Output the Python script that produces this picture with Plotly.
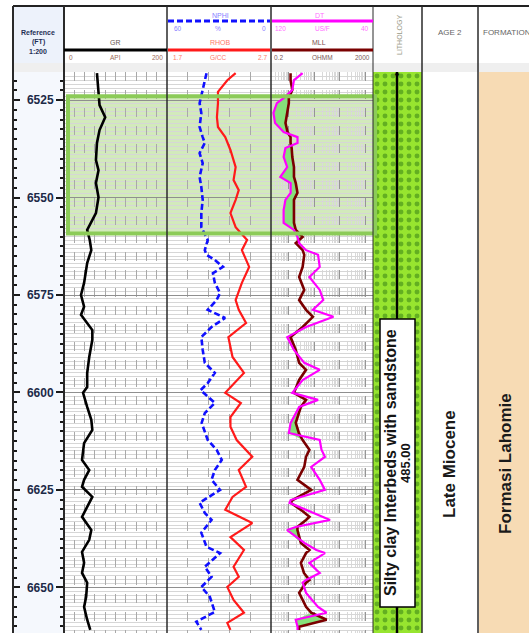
import numpy as np
import plotly.graph_objects as go

W, H = 529, 633

# ---------------- data ----------------
gr_depth = [6518.1, 6523.2, 6526.3, 6529.4, 6532.7, 6536.0, 6540.4, 6543.0, 6546.3, 6549.9,
            6554.0, 6558.3, 6560.9, 6563.5, 6566.8, 6571.9, 6575.0, 6578.0, 6580.1, 6584.0,
            6586.5, 6590.9, 6595.0, 6598.6, 6600.1, 6603.7, 6607.0, 6609.6, 6613.0, 6617.3,
            6619.9, 6622.4, 6624.2, 6626.8, 6629.4, 6631.9, 6635.3, 6637.8, 6640.9, 6643.7,
            6646.3, 6648.8, 6652.4, 6655.0, 6658.3, 6660.9]
gr_api = [64, 67, 69, 80, 69, 64, 62, 67, 62, 67,
          62, 45, 50, 53, 45, 39, 33, 39, 33, 55,
          55, 49, 45, 45, 37, 45, 53, 55, 39, 35,
          49, 39, 35, 55, 45, 35, 53, 49, 35, 39,
          35, 45, 43, 39, 45, 51]

nphi_depth = [6518.1, 6519.9, 6522.4, 6525.8, 6528.3, 6531.9, 6534.5, 6536.0, 6538.6, 6541.2,
              6544.7, 6547.3, 6550.6, 6554.0, 6557.6, 6560.9, 6563.5, 6564.7, 6566.0, 6567.8,
              6569.4, 6571.9, 6574.5, 6576.3, 6578.8, 6580.9, 6583.2, 6585.8, 6589.1, 6592.4,
              6595.0, 6597.6, 6599.4, 6602.7, 6605.3, 6607.8, 6612.2, 6614.7, 6617.3, 6619.9,
              6622.4, 6625.0, 6628.3, 6630.9, 6632.7, 6636.0, 6639.6, 6641.2, 6644.7, 6647.3,
              6649.9, 6652.4, 6656.3, 6658.8, 6660.9]
nphi = [37.2, 38.2, 39.4, 41.2, 40.2, 41.2, 39.4, 38.2, 41.2, 39.4,
        41.2, 40.2, 39.4, 40.2, 40.2, 36.5, 38.2, 37.2, 32.4, 27.7,
        33.5, 32.4, 29.4, 31.4, 36.5, 26.5, 34.3, 40.2, 39.4, 38.2,
        32.4, 36.5, 40.6, 32.4, 38.2, 40.0, 36.5, 31.4, 28.4, 32.4,
        34.3, 29.4, 41.2, 38.2, 34.3, 40.2, 37.2, 29.4, 38.2, 34.3,
        40.2, 35.3, 32.4, 43.1, 40.2]

rhob_depth = [6518.1, 6519.9, 6522.9, 6525.8, 6529.4, 6531.9, 6534.5, 6537.8, 6542.2, 6545.5,
              6548.1, 6550.6, 6554.0, 6557.6, 6560.9, 6563.5, 6567.8, 6571.9, 6576.3, 6578.8,
              6582.2, 6585.8, 6590.9, 6595.0, 6600.1, 6602.7, 6606.3, 6608.8, 6612.2, 6616.5,
              6619.9, 6624.2, 6626.8, 6630.1, 6633.5, 6637.1, 6640.4, 6644.7, 6647.3, 6649.9,
              6653.2, 6656.5, 6659.1, 6660.9]
rhob = [2.36, 2.28, 2.19, 2.19, 2.18, 2.19, 2.26, 2.31, 2.36, 2.34,
        2.39, 2.36, 2.31, 2.36, 2.47, 2.42, 2.49, 2.42, 2.36, 2.39,
        2.46, 2.29, 2.33, 2.44, 2.26, 2.41, 2.31, 2.31, 2.37, 2.52,
        2.39, 2.46, 2.33, 2.26, 2.52, 2.31, 2.44, 2.34, 2.39, 2.28,
        2.34, 2.44, 2.28, 2.31]

dtmll_depth = [6518.1, 6519.9, 6522.4, 6524.5, 6525.8, 6528.3, 6530.9, 6533.2, 6534.5, 6536.0,
               6537.3, 6539.6, 6542.2, 6544.7, 6546.3, 6548.8, 6550.6, 6553.2, 6556.5, 6558.3,
               6560.1, 6561.7, 6563.5, 6564.7, 6567.8, 6570.4, 6573.7, 6576.3, 6578.8, 6580.6,
               6583.2, 6585.8, 6589.1, 6592.4, 6594.2, 6596.8, 6600.1, 6601.9, 6603.7, 6607.8,
               6610.4, 6612.2, 6614.7, 6616.5, 6619.1, 6622.4, 6625.0, 6627.6, 6628.3, 6630.1,
               6631.9, 6632.7, 6634.5, 6635.3, 6638.6, 6640.4, 6641.2, 6643.7, 6645.5, 6646.3,
               6648.1, 6648.8, 6651.4, 6655.0, 6656.5, 6658.3, 6660.1, 6660.9]
dt = [95.2, 102.0, 103.3, 110.1, 115.4, 118.1, 116.8, 110.1, 99.2, 99.2,
      108.7, 110.1, 107.3, 112.7, 104.6, 104.6, 108.7, 110.1, 110.1, 102.0,
      99.2, 97.9, 92.5, 83.1, 81.8, 89.9, 81.8, 79.0, 87.1, 71.0,
      92.5, 107.3, 102.0, 93.9, 81.8, 95.2, 103.3, 83.1, 97.9, 104.6,
      106.0, 81.8, 80.4, 77.7, 88.5, 81.8, 77.7, 104.6, 105.5, 92.5,
      80.4, 73.7, 100.6, 107.3, 93.9, 84.4, 77.7, 89.9, 84.4, 81.8,
      92.5, 95.2, 92.5, 83.1, 76.4, 100.6, 99.2, 99.2]
mll = [1.17, 1.17, 1.37, 1.0, 1.0, 0.86, 0.74, 0.89, 1.17, 1.17,
       1.29, 1.37, 1.59, 1.59, 1.87, 2.18, 1.59, 1.59, 1.59, 1.87,
       3.48, 1.87, 3.48, 4.03, 3.48, 2.54, 4.03, 2.54, 4.73, 8.8,
       3.48, 1.17, 1.87, 2.54, 4.73, 2.54, 1.59, 4.73, 2.97, 1.87,
       2.47, 3.48, 6.43, 4.73, 4.03, 2.18, 7.53, 1.41, 1.17, 2.97,
       6.43, 4.73, 2.18, 2.18, 2.97, 6.43, 4.73, 2.97, 3.48, 3.92,
       6.43, 4.73, 2.54, 4.73, 7.53, 30.4, 2.54, 2.54]

# scales
gr_range = [0, 200]
nphi_range = [60, 0]
rhob_range = [1.7, 2.7]
dt_range = [120, 40]
mll_range = [0.2, 2000]
depth_top, depth_bottom = 6517.8, 6661.7

# zones / intervals
zone_top, zone_bottom = 6524.0, 6559.2
litho_top = 6400.0
litho_thickness = 485.0
litho_name = "Silty clay Interbeds with sandstone"
age_name = "Late Miocene"
formation_name = "Formasi Lahomie"

# ---------------- helpers ----------------
def px(x):
    return x / W

def py(y):
    return 1 - y / H

plot_top = 72
ydom = [0, py(plot_top)]

fig = go.Figure()

common = dict(hoverinfo="skip", showlegend=False)

# GR
fig.add_trace(go.Scatter(x=gr_api, y=gr_depth, xaxis="x", yaxis="y", mode="lines",
                         line=dict(color="black", width=2.6), **common))
# NPHI
fig.add_trace(go.Scatter(x=nphi, y=nphi_depth, xaxis="x2", yaxis="y", mode="lines",
                         line=dict(color="#1010ff", width=2.6, dash="6px,3px"), **common))
# RHOB
fig.add_trace(go.Scatter(x=rhob, y=rhob_depth, xaxis="x3", yaxis="y", mode="lines",
                         line=dict(color="#ff1a1a", width=2.2), **common))

# DT/MLL crossover fill on MLL (log) axis: DT expressed in MLL-axis units
lo, hi = np.log10(mll_range[0]), np.log10(mll_range[1])
dt_arr = np.array(dt)
dt_pos = (dt_range[0] - dt_arr) / (dt_range[0] - dt_range[1])
dt_as_mll = 10 ** (lo + dt_pos * (hi - lo))
mll_arr = np.array(mll)
fig.add_trace(go.Scatter(x=mll_arr, y=dtmll_depth, xaxis="x4", yaxis="y", mode="lines",
                         line=dict(width=0, color="rgba(0,0,0,0)"), **common))
fig.add_trace(go.Scatter(x=np.minimum(dt_as_mll, mll_arr), y=dtmll_depth, xaxis="x4", yaxis="y",
                         mode="lines", line=dict(width=0, color="rgba(0,0,0,0)"),
                         fill="tonextx", fillcolor="#86e07a", **common))
# MLL
fig.add_trace(go.Scatter(x=mll, y=dtmll_depth, xaxis="x4", yaxis="y", mode="lines",
                         line=dict(color="#7a0000", width=2.6), **common))
# DT
fig.add_trace(go.Scatter(x=dt, y=dtmll_depth, xaxis="x5", yaxis="y", mode="lines",
                         line=dict(color="#ff00ff", width=2.2), **common))

# lithology interval
fig.add_trace(go.Bar(x=[0], y=[litho_thickness], base=[litho_top], width=[1],
                     xaxis="x6", yaxis="y",
                     marker=dict(color="#97e52f", line=dict(width=0),
                                 pattern=dict(shape=".", fgcolor="#2f7a14", bgcolor="#97e52f",
                                              size=8, solidity=0.3)),
                     **common))

# dummy traces to realise depth tick axes
fig.add_trace(go.Scatter(x=[None], y=[None], xaxis="x", yaxis="y2", **common))
fig.add_trace(go.Scatter(x=[None], y=[None], xaxis="x", yaxis="y3", **common))

noax = dict(showticklabels=False, ticks="", zeroline=False, showline=False, fixedrange=True)

fig.update_layout(
    width=W, height=H, autosize=False,
    margin=dict(l=0, r=0, t=0, b=0, pad=0),
    paper_bgcolor="white", plot_bgcolor="rgba(0,0,0,0)",
    font=dict(family="Liberation Sans", color="#333"),
    bargap=0,
    yaxis=dict(domain=ydom, range=[depth_bottom, depth_top], anchor="x",
               showgrid=True, gridcolor="#8f8f8f", gridwidth=1.3, dtick=25, tick0=0,
               minor=dict(dtick=1, showgrid=True, gridcolor="#d6d6d6", gridwidth=1),
               **noax),
    yaxis2=dict(overlaying="y", anchor="free", position=px(64), side="left",
                range=[depth_bottom, depth_top], dtick=25, tick0=0,
                ticks="outside", ticklen=7, tickwidth=2, tickcolor="#1a1a1a",
                minor=dict(dtick=2.5, ticks="outside", ticklen=3, tickwidth=1.5,
                           tickcolor="#1a1a1a", showgrid=False),
                showgrid=False, zeroline=False, showline=True, linecolor="#1a1a1a", linewidth=2,
                tickfont=dict(size=12, color="#1c2a48", family="Liberation Sans", weight="bold"),
                fixedrange=True, automargin=False),
    yaxis3=dict(overlaying="y", anchor="free", position=px(13), side="right",
                range=[depth_bottom, depth_top], dtick=25, tick0=0,
                ticks="outside", ticklen=6, tickwidth=2, tickcolor="#1a1a1a",
                minor=dict(dtick=2.5, ticks="outside", ticklen=3, tickwidth=1.5,
                           tickcolor="#1a1a1a", showgrid=False),
                showgrid=False, zeroline=False, showline=True, linecolor="#1a1a1a", linewidth=2,
                showticklabels=False, fixedrange=True, automargin=False),
    xaxis=dict(domain=[px(64), px(167)], range=gr_range, anchor="y",
               showgrid=True, dtick=20, tick0=0, griddash="dash", gridcolor="#a9a9a9", gridwidth=1,
               **noax),
    xaxis2=dict(domain=[px(167), px(271)], range=nphi_range, anchor="y",
                showgrid=True, dtick=12, tick0=0, griddash="dash", gridcolor="#a9a9a9", gridwidth=1,
                **noax),
    xaxis3=dict(overlaying="x2", range=rhob_range, anchor="y", showgrid=False, **noax),
    xaxis4=dict(domain=[px(271), px(373)], type="log", range=[lo, hi], anchor="y",
                showgrid=True, dtick=1, griddash="dash", gridcolor="#959595", gridwidth=1,
                minor=dict(dtick="D1", showgrid=True, gridcolor="#d9d9d9", gridwidth=1),
                **noax),
    xaxis5=dict(overlaying="x4", range=dt_range, anchor="y", showgrid=False, **noax),
    xaxis6=dict(domain=[px(373), px(422)], range=[-0.5, 0.5], anchor="y", showgrid=False, **noax),
)

shapes = []

def rect(x0, y0, x1, y1, fill, layer="below", line=None):
    shapes.append(dict(type="rect", xref="paper", yref="paper",
                       x0=px(x0), x1=px(x1), y0=py(y1), y1=py(y0),
                       fillcolor=fill, line=line or dict(width=0), layer=layer))

def hline(x0, x1, y, color, width, dash=None, layer="above"):
    ln = dict(color=color, width=width)
    if dash:
        ln["dash"] = dash
    shapes.append(dict(type="line", xref="paper", yref="paper",
                       x0=px(x0), x1=px(x1), y0=py(y), y1=py(y), line=ln, layer=layer))

def vline(x, y0, y1, color, width, layer="above"):
    shapes.append(dict(type="line", xref="paper", yref="paper",
                       x0=px(x), x1=px(x), y0=py(y0), y1=py(y1),
                       line=dict(color=color, width=width), layer=layer))

# backgrounds
rect(13, 7, 64, 63, "#edf2fb")
rect(13, 63, 529, 72, "#efefef")
rect(13, 72, 64, 633, "#f5f8fd")
rect(479, 72, 529, 633, "#f7dbb4")

# green zone fill (data depths)
shapes.append(dict(type="rect", xref="paper", yref="y", x0=px(68), x1=px(375),
                   y0=zone_top, y1=zone_bottom, fillcolor="#d2eabb",
                   line=dict(width=0), layer="below"))
shapes.append(dict(type="rect", xref="paper", yref="y", x0=px(68), x1=px(375),
                   y0=zone_top, y1=zone_bottom, fillcolor="rgba(0,0,0,0)",
                   line=dict(color="#8ccb58", width=4), layer="above"))

# header top line & separators
hline(13, 529, 6, "#222", 2)
for xv, wv in [(13, 2), (64, 2), (167, 1.5), (271, 1.5), (373, 1), (422, 1.5), (478, 1.5)]:
    vline(xv, 6, 633, "#2a2a2a", wv)

# header curve keys
hline(64, 167, 50, "black", 3)
hline(168, 270, 21, "#1010ff", 3, dash="6px,3px")
hline(168, 270, 50, "#ff1a1a", 3)
hline(272, 373, 21, "#ff00ff", 3)
hline(272, 373, 50, "#7a0000", 3)

# lithology center line and label box
vline(397, 72, 633, "black", 2.5)
rect(380, 319, 415, 607, "white", layer="above", line=dict(color="black", width=1.5))

fig.update_layout(shapes=shapes)

ann = []

def text(x, y, s, size=7, color="#444", bold=False, angle=0, xanchor="center"):
    ann.append(dict(x=px(x), y=py(y), xref="paper", yref="paper", text=s, showarrow=False,
                    xanchor=xanchor, yanchor="middle", textangle=angle,
                    font=dict(size=size, color=color, family="Liberation Sans",
                              weight="bold" if bold else "normal")))

text(38, 33, "Reference", 7, "#1f2f55", True)
text(38, 42, "(FT)", 7, "#1f2f55", True)
text(38, 51, "1:200", 7, "#1f2f55", True)

text(115, 43, "GR", 7, "#6a5a52")
text(71, 58, "0", 6.5, "#9a6a5a"); text(115, 58, "API", 6.5, "#9a6a5a"); text(157, 58, "200", 6.5, "#9a6a5a")

text(220, 15, "NPHI", 7, "#8a80ff")
text(178, 29, "60", 6.5, "#8a80ff"); text(218, 29, "%", 6.5, "#8a80ff"); text(264, 29, "0", 6.5, "#8a80ff")
text(220, 43, "RHOB", 7, "#ff7a6a")
text(177, 58, "1.7", 6.5, "#ff7a6a"); text(218, 58, "G/CC", 6.5, "#ff7a6a"); text(262, 58, "2.7", 6.5, "#ff7a6a")

text(320, 15, "DT", 7, "#ff70ff")
text(280, 29, "120", 6.5, "#ff70ff"); text(322, 29, "US/F", 6.5, "#ff70ff"); text(365, 29, "40", 6.5, "#ff70ff")
text(319, 43, "MLL", 7, "#7a5050")
text(278, 58, "0.2", 6.5, "#7a5a5a"); text(322, 58, "OHMM", 6.5, "#7a5a5a"); text(362, 58, "2000", 6.5, "#7a5a5a")

text(400, 35, "LITHOLOGY", 7, "#9a9a88", angle=-90)
text(450, 33, "AGE 2", 8, "#666")
text(481, 33, "FORMATION", 8, "#666", xanchor="left")
text(397, 75, "▼", 8, "black")

text(390, 463, litho_name, 16, "#151515", True, angle=-90)
text(405, 463, f"{litho_thickness:.2f}", 13, "#151515", True, angle=-90)
text(449, 464, age_name, 17, "#1a1a1a", True, angle=-90)
text(505, 464, formation_name, 17, "#1a1a1a", True, angle=-90)

fig.update_layout(annotations=ann)

fig.write_html("out.html", config={"displayModeBar": False},
               post_script="document.body.style.margin='0';document.body.style.overflow='hidden';")
